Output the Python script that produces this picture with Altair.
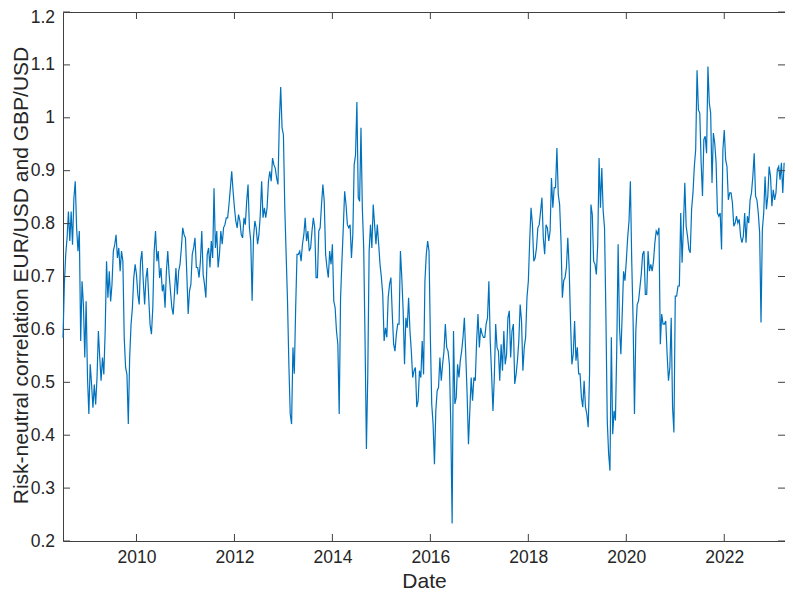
import altair as alt
import pandas as pd

# Risk-neutral correlation values, one every 1/36 year
corr_2008h2_2010 = [0.584,0.685,0.742,0.773,0.823,0.767,0.823,0.760,0.848,0.880,
 0.792,0.748,0.786,0.578,0.691,0.647,0.547,0.653,0.509,0.440,
 0.534,0.496,0.452,0.496,0.458,0.509,0.597,0.547,0.503,0.547,
 0.515,0.597,0.729,0.660,0.710,0.653,0.685,0.748,0.760,0.779,
 0.735,0.754,0.710,0.748,0.729,0.584,0.528,0.515,0.421,0.547,
 0.609,0.641,0.697,0.723,0.704,0.666,0.647,0.729,0.748,0.691,
 0.647,0.697,0.716,0.660,0.609,0.591,0.641,0.748,0.786,0.729,
 0.748,0.697,0.716,0.672,0.685,0.641,0.710,0.748,0.704,0.672,
 0.641,0.628,0.672,0.716,0.666,0.710,0.723,0.754,0.792,0.779]
corr_2011_2013h1 = [0.773,0.704,0.629,0.673,0.685,0.742,0.754,0.773,0.717,0.717,
 0.698,0.729,0.786,0.704,0.685,0.660,0.742,0.754,0.717,0.767,
 0.735,0.867,0.754,0.786,0.717,0.742,0.786,0.761,0.792,0.798,
 0.811,0.811,0.836,0.867,0.899,0.861,0.830,0.805,0.792,0.817,
 0.805,0.779,0.773,0.811,0.798,0.842,0.874,0.792,0.767,0.654,
 0.773,0.805,0.792,0.761,0.779,0.817,0.880,0.811,0.830,0.811,
 0.830,0.880,0.899,0.880,0.924,0.911,0.905,0.886,0.874,0.993,
 1.058,0.981,0.968,0.830,0.742,0.654,0.534,0.440,0.421,0.566,
 0.516,0.641,0.742,0.742,0.748,0.729,0.761,0.779,0.811,0.767]
corr_2013h2_2015 = [0.786,0.748,0.754,0.786,0.811,0.792,0.698,0.698,0.786,0.792,
 0.836,0.874,0.842,0.742,0.717,0.698,0.748,0.723,0.761,0.654,
 0.641,0.597,0.572,0.440,0.660,0.729,0.792,0.861,0.836,0.798,
 0.792,0.798,0.735,0.779,0.911,0.930,1.030,0.849,0.842,0.981,
 0.830,0.754,0.578,0.374,0.515,0.748,0.798,0.754,0.836,0.798,
 0.761,0.798,0.761,0.723,0.698,0.666,0.578,0.603,0.585,0.660,
 0.685,0.698,0.629,0.572,0.559,0.591,0.610,0.610,0.748,0.698,
 0.635,0.534,0.622,0.603,0.660,0.597,0.559,0.509,0.522,0.528,
 0.453,0.465,0.522,0.509,0.578,0.515,0.691,0.742,0.767,0.748]
corr_2016_2018h1 = [0.585,0.459,0.421,0.345,0.446,0.484,0.490,0.547,0.503,0.534,
 0.559,0.610,0.566,0.559,0.534,0.421,0.233,0.597,0.459,0.471,
 0.534,0.509,0.541,0.559,0.585,0.622,0.553,0.478,0.383,0.446,
 0.509,0.465,0.509,0.503,0.578,0.629,0.566,0.603,0.591,0.585,
 0.585,0.610,0.622,0.691,0.578,0.515,0.446,0.509,0.610,0.566,
 0.559,0.503,0.572,0.522,0.597,0.534,0.553,0.622,0.635,0.547,
 0.597,0.610,0.497,0.515,0.541,0.578,0.647,0.616,0.522,0.566,
 0.585,0.660,0.691,0.767,0.830,0.798,0.729,0.735,0.754,0.792,
 0.798,0.823,0.849,0.773,0.742,0.798,0.792,0.767,0.786,0.886]
corr_2018h2_2020 = [0.830,0.868,0.868,0.943,0.855,0.836,0.767,0.660,0.692,0.698,
 0.717,0.773,0.717,0.616,0.534,0.553,0.616,0.541,0.566,0.516,
 0.516,0.472,0.453,0.503,0.453,0.440,0.415,0.516,0.836,0.817,
 0.729,0.723,0.704,0.761,0.924,0.830,0.905,0.824,0.792,0.629,
 0.428,0.365,0.333,0.585,0.402,0.446,0.428,0.566,0.761,0.604,
 0.553,0.629,0.710,0.692,0.729,0.773,0.805,0.880,0.729,0.616,
 0.440,0.597,0.647,0.654,0.679,0.704,0.742,0.748,0.666,0.666,
 0.748,0.710,0.723,0.710,0.729,0.764,0.786,0.780,0.792,0.572,
 0.629,0.610,0.610,0.616,0.553,0.503,0.528,0.622,0.453]
corr_2021_2023 = [0.405,0.663,0.663,0.682,0.682,0.820,0.726,0.795,0.877,0.795,
 0.776,0.751,0.745,0.827,0.858,0.908,0.940,1.090,1.015,1.009,
 0.915,0.852,0.959,0.965,0.933,1.097,1.028,1.009,0.877,0.971,
 0.952,0.915,0.820,0.814,0.820,0.751,0.940,0.977,0.921,0.908,
 0.845,0.858,0.858,0.839,0.795,0.801,0.814,0.801,0.808,0.776,
 0.764,0.776,0.820,0.764,0.814,0.801,0.845,0.858,0.889,0.933,
 0.852,0.845,0.820,0.783,0.613,0.789,0.820,0.889,0.827,0.852,
 0.908,0.889,0.833,0.864,0.845,0.858,0.902,0.908,0.883,0.915,
 0.858,0.915]

x_tick_years = [2010, 2012, 2014, 2016, 2018, 2020, 2022]
y_tick_values = [0.2, 0.3, 0.4, 0.5, 0.6, 0.7, 0.8, 0.9, 1.0, 1.1, 1.2]
x_domain = [2008.5, 2023.24]
y_domain = [0.2, 1.2]
start_year = 2008.5
steps_per_year = 36

values = (corr_2008h2_2010 + corr_2011_2013h1 + corr_2013h2_2015 +
          corr_2016_2018h1 + corr_2018h2_2020 + corr_2021_2023)
years = [start_year + i / steps_per_year for i in range(len(values))]
df = pd.DataFrame({"year": years, "corr": values})
xt = pd.DataFrame({"year": x_tick_years})
yt = pd.DataFrame({"corr": y_tick_values})

W, H = 722, 529
FONT = "Liberation Sans"
TXT = "#262626"
AX = "#404040"

xscale = alt.Scale(domain=x_domain, nice=False, zero=False)
yscale = alt.Scale(domain=y_domain, nice=False, zero=False)

xaxis = alt.Axis(values=x_tick_years, format="d", ticks=False, domain=False,
                 grid=False, labelFontSize=17.5, labelFont=FONT, labelColor=TXT,
                 labelPadding=7, title="Date", titleFont=FONT, titleFontSize=21,
                 titleFontWeight="normal", titleColor=TXT,
                 titleBaseline="alphabetic", titleY=46.5, titleX=W / 2)
yaxis = alt.Axis(values=y_tick_values, format="~g", ticks=False, domain=False,
                 grid=False, labelFontSize=17.5, labelFont=FONT, labelColor=TXT,
                 labelPadding=8.5,
                 labelOffset={"expr": "datum.value >= 1.19 ? 5 : 0"},
                 title="Risk-neutral correlation EUR/USD and GBP/USD",
                 titleFont=FONT, titleFontSize=21, titleFontWeight="normal",
                 titleColor=TXT, titleBaseline="alphabetic",
                 titleX=-36, titleY=263)

line = alt.Chart(df).mark_line(color="#0072BD", strokeWidth=1.2).encode(
    x=alt.X("year:Q", scale=xscale, axis=xaxis),
    y=alt.Y("corr:Q", scale=yscale, axis=yaxis),
)

TL = 7
left_ticks = alt.Chart(yt).mark_rule(color=AX, strokeWidth=1).encode(
    y=alt.Y("corr:Q", scale=yscale, axis=yaxis), x=alt.value(0), x2=alt.value(TL))
right_ticks = alt.Chart(yt).mark_rule(color=AX, strokeWidth=1).encode(
    y=alt.Y("corr:Q", scale=yscale, axis=yaxis), x=alt.value(W - TL), x2=alt.value(W))
bottom_ticks = alt.Chart(xt).mark_rule(color=AX, strokeWidth=1).encode(
    x=alt.X("year:Q", scale=xscale, axis=xaxis), y=alt.value(H - TL), y2=alt.value(H))
top_ticks = alt.Chart(xt).mark_rule(color=AX, strokeWidth=1).encode(
    x=alt.X("year:Q", scale=xscale, axis=xaxis), y=alt.value(0), y2=alt.value(TL))

chart = alt.layer(line, left_ticks, right_ticks, bottom_ticks, top_ticks).properties(
    width=W, height=H,
    background="white",
    autosize=alt.AutoSizeParams(type="none"),
    padding={"left": 55, "top": 4, "right": 0, "bottom": 51},
).configure_view(stroke=AX, strokeWidth=1)

chart.save("out.html", embed_options={"renderer": "svg", "actions": False})
